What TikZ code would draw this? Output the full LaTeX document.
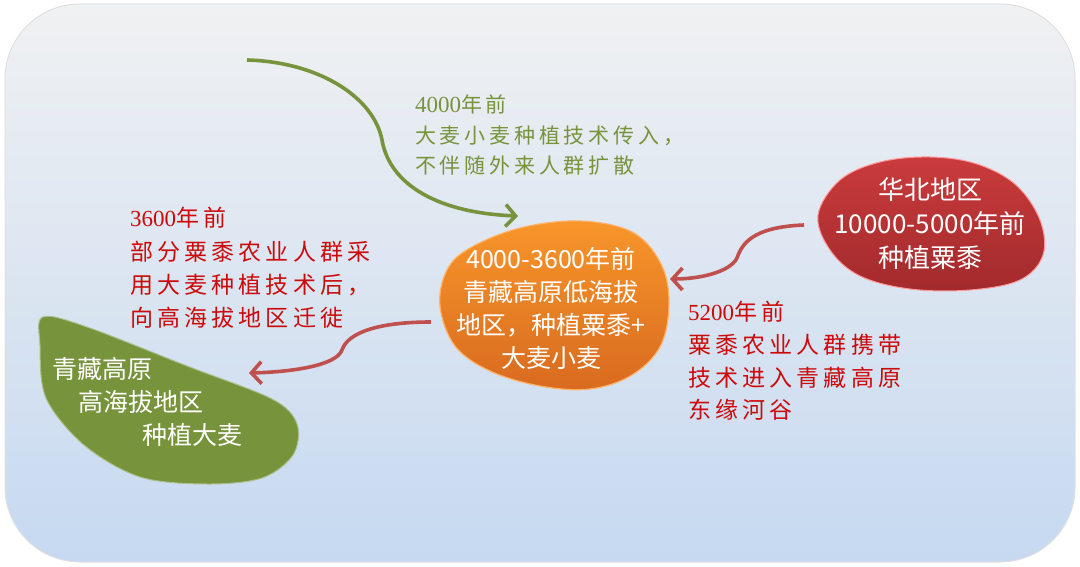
\documentclass[tikz,border=0pt]{standalone}
\usepackage{fontspec}
\setmainfont{Noto Sans CJK SC}
\newfontfamily\lblfont[LetterSpace=18]{Noto Sans CJK SC}
\newfontfamily\numfont{Liberation Serif}
\usetikzlibrary{arrows.meta}
\definecolor{bgtop}{HTML}{F0F1F2}
\definecolor{bgbot}{HTML}{C6D9F1}
\definecolor{orgtop}{HTML}{F8962B}
\definecolor{orgbot}{HTML}{D86A1F}
\definecolor{redtop}{HTML}{CA3B3C}
\definecolor{redbot}{HTML}{A22A2C}
\definecolor{leaf}{HTML}{77933C}
\definecolor{lblred}{HTML}{CC0A0A}
\definecolor{arrred}{HTML}{C0504D}
\tikzset{
  lbl/.style={inner sep=0pt, anchor=west, align=left},
  blobtxt/.style={inner sep=0pt, text=white, font=\fontsize{25}{33}\selectfont},
  arr/.style={line width=3.6pt, -{Straight Barb[length=10pt,width=22pt,line width=3.6pt]}},
}
\newcommand{\yr}[1]{{\numfont\fontsize{23}{30}\selectfont #1}}
\begin{document}
\begin{tikzpicture}[x=1pt,y=-1pt]
\useasboundingbox (0,0) rectangle (1080,567);
% background panel
\shade[top color=bgtop, bottom color=bgbot, rounded corners=75pt, draw=black!12, line width=1pt]
  (5,4) rectangle (1075,562);

% orange blob
\shade[top color=orgtop, bottom color=orgbot, draw=orange!60!white, line width=1.2pt]
  plot[smooth cycle, tension=0.6] coordinates {(470,248) (520,228) (580,221) (632,232) (660,262) (669,300) (661,345) (632,375) (590,389) (540,386) (490,371) (455,346) (440,306) (447,270)};
% red blob
\shade[top color=redtop, bottom color=redbot, draw=red!40!white, line width=1pt]
  plot[smooth cycle, tension=0.6] coordinates {(840,180) (880,162) (930,157) (977,164) (1016,185) (1040,220) (1043,255) (1020,280) (970,290) (910,289) (860,276) (830,250) (818,215)};
% green leaf blob
\fill[leaf, draw=leaf!60!white, line width=1pt]
  plot[smooth cycle, tension=0.55] coordinates {(43,317) (87,327) (187,366) (272,399) (297,424) (293,455) (262,478) (207,484) (140,477) (84,445) (46,398) (40,345)};

% blob texts
\node[blobtxt, align=center] (low) at (551,308) {4000-3600年前\\青藏高原低海拔\\地区，种植粟黍+\\大麦小麦};
\node[blobtxt, align=center, font=\fontsize{26}{34}\selectfont] (north) at (930,224) {华北地区\\10000-5000年前\\种植粟黍};
\node[blobtxt, align=left, anchor=west] (high) at (52,402) {青藏高原\\\hspace*{26pt}高海拔地区\\\hspace*{90pt}种植大麦};

% labels
\node[lbl, text=leaf, font=\lblfont\fontsize{21}{30.5}\selectfont] (lg) at (415,135.5) {\yr{4000}年前\\大麦小麦种植技术传入，\\不伴随外来人群扩散};
\node[lbl, text=lblred, font=\lblfont\fontsize{23}{33.3}\selectfont] (ll) at (130,268) {\yr{3600}年前\\部分粟黍农业人群采\\用大麦种植技术后，\\向高海拔地区迁徙};
\node[lbl, text=lblred, font=\lblfont\fontsize{23}{32.7}\selectfont] (lr) at (688,361) {\yr{5200}年前\\粟黍农业人群携带\\技术进入青藏高原\\东缘河谷};

% connectors
\coordinate (gs) at (247,60);
\coordinate (ge) at (518,216);
\coordinate (rs) at (804,225);
\coordinate (re) at (670,279);
\coordinate (ls) at (431,322);
\coordinate (le) at (249,373);
\draw[arr, leaf] (gs) .. controls (320,62) and (374,98) .. (382,140)
   .. controls (390,186) and (440,213) .. (ge);
\draw[arr, arrred] (rs) .. controls (752,227) and (742,244) .. (737,258)
   .. controls (730,272) and (700,279) .. (re);
\draw[arr, arrred] (ls) .. controls (380,322) and (348,332) .. (342,350)
   .. controls (336,366) and (290,372) .. (le);
\end{tikzpicture}
\end{document}
